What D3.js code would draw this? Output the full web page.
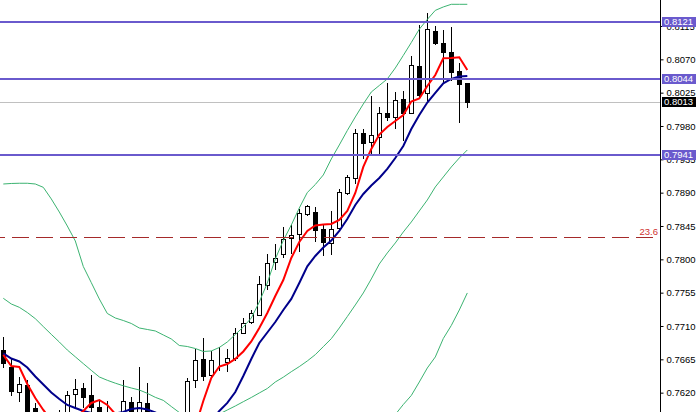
<!DOCTYPE html>
<html><head><meta charset="utf-8">
<script src="https://cdn.jsdelivr.net/npm/d3@7"></script>
<style>html,body{margin:0;padding:0;background:#fff;overflow:hidden}svg{display:block}</style>
</head><body><svg id="c" width="696" height="412"></svg>
<script>
const opens = [0.76776,0.76551,0.76213,0.76304,0.75993,0.75831,0.75669,0.75777,0.75912,0.76178,0.76263,0.76164,0.76002,0.75912,0.75831,0.75885,0.76078,0.75885,0.76065,0.75858,0.75750,0.75669,0.75696,0.75831,0.76371,0.76650,0.76439,0.76621,0.76618,0.76664,0.77010,0.77158,0.77255,0.77649,0.77960,0.78068,0.78284,0.78339,0.78609,0.78636,0.78405,0.78216,0.78419,0.78892,0.79094,0.79701,0.79588,0.79656,0.79971,0.79926,0.80160,0.79980,0.80610,0.80242,0.81083,0.80925,0.80803,0.80543,0.80377];
const highs = [0.76947,0.76650,0.76416,0.76371,0.76061,0.75912,0.75845,0.75966,0.76227,0.76380,0.76331,0.76439,0.76092,0.76088,0.75932,0.76371,0.76142,0.76542,0.76335,0.75912,0.75831,0.75858,0.75912,0.76394,0.76790,0.76934,0.76767,0.76823,0.76785,0.77069,0.77208,0.77316,0.77775,0.78068,0.78207,0.78432,0.78457,0.78676,0.78734,0.78707,0.78477,0.78646,0.78956,0.79145,0.79755,0.79755,0.80205,0.80052,0.80376,0.80263,0.80277,0.80745,0.81164,0.81330,0.81150,0.81096,0.81133,0.80647,0.80381];
const lows = [0.76542,0.76164,0.76092,0.75764,0.75696,0.75615,0.75615,0.75723,0.75858,0.76011,0.76011,0.75939,0.75831,0.75777,0.75750,0.75858,0.75831,0.75858,0.75804,0.75696,0.75588,0.75615,0.75642,0.75777,0.76272,0.76367,0.76394,0.76506,0.76497,0.76641,0.77001,0.77141,0.77249,0.77604,0.77867,0.78032,0.78086,0.78117,0.78599,0.78254,0.78054,0.78076,0.78410,0.78882,0.79026,0.79364,0.79422,0.79422,0.79881,0.79769,0.79611,0.79969,0.80198,0.80151,0.80907,0.80398,0.80421,0.79858,0.80053];
const closes = [0.76596,0.76227,0.76317,0.75831,0.75764,0.75669,0.75777,0.75912,0.76169,0.76245,0.76137,0.76002,0.75912,0.75831,0.75885,0.76083,0.75885,0.76070,0.75858,0.75750,0.75669,0.75777,0.75858,0.76362,0.76641,0.76429,0.76637,0.76628,0.76664,0.77001,0.77147,0.77271,0.77663,0.77946,0.78014,0.78270,0.78322,0.78622,0.78720,0.78396,0.78230,0.78405,0.78905,0.79107,0.79701,0.79575,0.79678,0.79971,0.79926,0.80151,0.79971,0.80624,0.80219,0.81106,0.80917,0.80803,0.80533,0.80363,0.80130];

const maFast = [0.76709,0.76560,0.76547,0.76317,0.76128,0.75966,0.75831,0.75764,0.75804,0.75858,0.75953,0.76061,0.76101,0.76034,0.75912,0.75858,0.75831,0.75831,0.75818,0.75791,0.75777,0.75764,0.75723,0.75696,0.75737,0.76088,0.76398,0.76553,0.76587,0.76655,0.76756,0.76891,0.77073,0.77276,0.77505,0.77721,0.78018,0.78234,0.78383,0.78457,0.78470,0.78477,0.78531,0.78653,0.78896,0.79247,0.79490,0.79685,0.79787,0.79868,0.79949,0.80131,0.80171,0.80340,0.80489,0.80714,0.80718,0.80727,0.80556];
const maSlow = [0.76731,0.76661,0.76621,0.76540,0.76418,0.76310,0.76202,0.76115,0.76034,0.75993,0.75953,0.75926,0.75912,0.75912,0.75919,0.75939,0.75980,0.75993,0.75973,0.75932,0.75885,0.75845,0.75804,0.75777,0.75764,0.75777,0.75818,0.75953,0.76061,0.76209,0.76425,0.76655,0.76871,0.77012,0.77154,0.77316,0.77465,0.77681,0.77906,0.78045,0.78160,0.78254,0.78383,0.78545,0.78734,0.78882,0.78997,0.79098,0.79220,0.79368,0.79530,0.79760,0.79949,0.80117,0.80246,0.80377,0.80435,0.80468,0.80475];
const bandUpper = [0.79017,0.79024,0.79027,0.79027,0.79017,0.78972,0.78815,0.78639,0.78450,0.78248,0.77903,0.77685,0.77465,0.77269,0.77208,0.77174,0.77134,0.77073,0.77053,0.77033,0.76979,0.76925,0.76837,0.76823,0.76796,0.76756,0.76763,0.76810,0.76884,0.76985,0.77087,0.77208,0.77424,0.77681,0.78005,0.78254,0.78464,0.78693,0.78902,0.79010,0.79139,0.79355,0.79544,0.79739,0.79922,0.80097,0.80259,0.80347,0.80435,0.80583,0.80753,0.80927,0.81107,0.81239,0.81361,0.81407,0.81443,0.81443,0.81443];
const bandLower = [0.77474,0.77397,0.77352,0.77282,0.77199,0.77092,0.76987,0.76884,0.76776,0.76684,0.76592,0.76501,0.76412,0.76367,0.76328,0.76293,0.76263,0.76236,0.76191,0.76137,0.76096,0.76013,0.75932,0.75831,0.75764,0.75777,0.75858,0.75912,0.75966,0.76020,0.76078,0.76135,0.76196,0.76256,0.76344,0.76409,0.76483,0.76552,0.76628,0.76713,0.76821,0.76929,0.77073,0.77227,0.77384,0.77546,0.77735,0.77937,0.78086,0.78221,0.78369,0.78504,0.78653,0.78801,0.78977,0.79112,0.79247,0.79368,0.79476];
const bandOuter = [null,null,null,null,null,null,null,null,null,null,null,null,null,null,null,null,null,null,null,null,null,null,null,null,null,null,null,null,null,null,null,null,null,null,null,null,null,null,null,null,null,null,null,null,null,null,null,null,null,0.75905,0.76040,0.76162,0.76344,0.76533,0.76682,0.76931,0.77107,0.77316,0.77546];

const levels = [0.8121, 0.8044, 0.7941];
const lastPrice = 0.8013;
const fibLevel = 0.78297;
const fibLabel = "23.6";
const tickValues = [0.7620,0.7665,0.7710,0.7755,0.7800,0.7845,0.7890,0.7935,0.7980,0.8025,0.8070,0.8115];

const W = 696, H = 412, axisX = 660;
const svg = d3.select("#c");
const x = d3.scaleLinear().domain([0, closes.length - 1]).range([3.3, 467.3]);
const y = d3.scaleLinear().domain([0.7620, 0.8115]).range([392.66, 26]);
const font = "'Liberation Sans', Arial, sans-serif";

svg.append("rect").attr("width", W).attr("height", H).attr("fill", "#fff");
svg.append("defs").append("clipPath").attr("id", "plot")
  .append("rect").attr("x", 0).attr("y", 0).attr("width", axisX).attr("height", H);
const g = svg.append("g").attr("clip-path", "url(#plot)");

// last price grey line
const yl = Math.round(y(lastPrice)) + 0.5;
g.append("line").attr("x1", 0).attr("x2", axisX).attr("y1", yl).attr("y2", yl)
  .attr("stroke", "#c0c0c0").attr("stroke-width", 1);

// candles
const idx = d3.range(closes.length);
const cg = g.append("g");
idx.forEach(i => {
  const cx = Math.round(x(i));
  cg.append("line").attr("x1", cx + 0.5).attr("x2", cx + 0.5)
    .attr("y1", Math.round(y(highs[i]))).attr("y2", Math.round(y(lows[i])) + 1)
    .attr("stroke", "#000").attr("stroke-width", 1);
  const top = Math.round(y(Math.max(opens[i], closes[i])));
  const bot = Math.round(y(Math.min(opens[i], closes[i])));
  const up = closes[i] >= opens[i];
  cg.append("rect").attr("x", cx - 2 + 0.5).attr("y", top + 0.5)
    .attr("width", 4).attr("height", Math.max(bot - top, 0))
    .attr("fill", up ? "#fff" : "#000").attr("stroke", "#000").attr("stroke-width", 1);
});

// indicator lines
const line = d3.line().defined(d => d != null).x((d, i) => x(i)).y(d => y(d));
const lg = g.append("g").attr("fill", "none");
[bandUpper, bandLower, bandOuter].forEach(arr => {
  lg.append("path").datum(arr).attr("d", line)
    .attr("stroke", "#3cb371").attr("stroke-width", 1);
});
lg.append("path").datum(maSlow).attr("d", line).attr("stroke", "#00008b").attr("stroke-width", 2);
lg.append("path").datum(maFast).attr("d", line).attr("stroke", "#ff0000").attr("stroke-width", 2);

// fib dashed line
const yf = Math.round(y(fibLevel)) + 0.5;
g.append("line").attr("x1", 0).attr("x2", 653).attr("y1", yf).attr("y2", yf)
  .attr("stroke", "#a52a2a").attr("stroke-width", 1)
  .attr("stroke-dasharray", "17,7").attr("stroke-dashoffset", 12);
svg.append("text").attr("x", 658).attr("y", yf - 2.5).attr("text-anchor", "end")
  .attr("font-family", font).attr("font-size", 9.5).attr("fill", "#d03030").text(fibLabel);

// horizontal levels
levels.forEach(v => {
  const yy = Math.round(y(v));
  g.append("line").attr("x1", 0).attr("x2", axisX).attr("y1", yy).attr("y2", yy)
    .attr("stroke", "#6a5acd").attr("stroke-width", 2);
});

// axis
const axis = d3.axisRight(y).tickValues(tickValues).tickSize(3).tickPadding(3)
  .tickFormat(d3.format(".4f"));
const ag = svg.append("g").attr("transform", `translate(${axisX + 0.5},0)`).call(axis);
ag.select(".domain").remove();
ag.selectAll("text").attr("font-family", font).attr("font-size", 9.5).attr("fill", "#000");
ag.selectAll("line").attr("stroke", "#000");
svg.append("line").attr("x1", axisX + 0.5).attr("x2", axisX + 0.5).attr("y1", 0).attr("y2", H)
  .attr("stroke", "#000").attr("stroke-width", 1);

// right labels
function tag(v, fill) {
  const yy = Math.round(y(v));
  svg.append("rect").attr("x", 662).attr("y", yy - 5).attr("width", 34).attr("height", 10).attr("fill", fill);
  svg.append("text").attr("x", 664).attr("y", yy).attr("dy", "0.35em")
    .attr("font-family", font).attr("font-size", 9.5).attr("fill", "#fff")
    .text(d3.format(".4f")(v));
}
levels.forEach(v => tag(v, "#6a5acd"));
tag(lastPrice, "#000");
</script>
</body></html>
